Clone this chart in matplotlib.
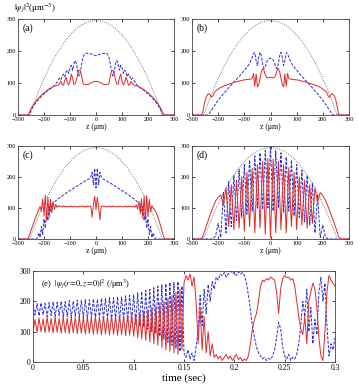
import numpy as np
import matplotlib
matplotlib.use('Agg')
import matplotlib.pyplot as plt

plt.rcParams['font.family'] = ['Liberation Serif', 'DejaVu Serif']
plt.rcParams['mathtext.fontset'] = 'stix'

# ---------------- data ----------------
z5 = np.arange(-300, 301, 5)
z10 = np.arange(-300, 301, 10)
z_tf = np.arange(-255, 256, 15)
t = np.linspace(0, 0.3, 151)

tf = [0, 34, 65, 95, 122, 148, 171, 193, 212, 230, 245, 258, 270, 279, 286, 291, 294,
      295,
      294, 291, 286, 279, 270, 258, 245, 230, 212, 193, 171, 148, 122, 95, 65, 34, 0]

red_a = [0, 0, 0, 0, 0, 0, 0, 0,
         2, 10, 20, 27, 33, 39, 44, 49, 54, 58, 62, 66, 69, 72, 76, 79, 82, 84, 86, 88,
         90, 91, 92, 94, 99, 105, 95, 93, 108, 118, 100, 94, 105, 128, 115, 96, 97, 110, 130, 140,
         138, 120, 100, 96, 95, 95, 96, 98, 100, 102, 104, 105,
         105,
         105, 104, 102, 100, 98, 96, 95, 95, 96, 100, 120, 138, 140, 130, 110, 97, 96, 115, 128, 105,
         94, 100, 118, 108, 93, 95, 105, 99, 94, 92, 91, 90,
         88, 86, 84, 82, 79, 76, 72, 69, 66, 62, 58, 54, 49, 44, 39, 33, 27, 20, 10, 2,
         0, 0, 0, 0, 0, 0, 0, 0]
blue_a = [0, 0, 0, 0, 0, 0, 0, 0,
          0, 5, 14, 22, 28, 34, 40, 45, 50, 54, 58, 62, 66, 69, 73, 76, 79, 82, 85, 88,
          92, 97, 103, 110, 115, 110, 122, 128, 120, 135, 140, 130, 148, 155, 140, 160, 170, 160, 135, 122,
          135, 160, 180, 190, 193, 193, 192, 192, 191, 190, 188, 186,
          185,
          186, 188, 190, 191, 192, 192, 193, 193, 190, 180, 160, 135, 122, 135, 160, 170, 160, 140, 155, 148,
          130, 140, 135, 120, 128, 122, 110, 115, 110, 103, 97, 92,
          88, 85, 82, 79, 76, 73, 69, 66, 62, 58, 54, 50, 45, 40, 34, 28, 22, 14, 5, 0,
          0, 0, 0, 0, 0, 0, 0, 0]

red_b = [0, 0, 0, 0, 0, 0, 0, 0,
         5, 25, 45, 58, 64, 67, 62, 56, 60, 70, 75, 78, 81, 84, 86, 88, 90, 92, 93, 95,
         96, 98, 99, 100, 102, 103, 104, 105, 106, 107, 108, 109, 110, 110, 111, 111, 112, 112, 115, 130,
         90, 128, 88, 95, 115, 135, 145, 140, 125, 118, 116, 117,
         118,
         117, 116, 118, 125, 140, 145, 135, 115, 95, 88, 128, 90, 130, 115, 112, 112, 111, 111, 110, 110,
         109, 108, 107, 106, 105, 104, 103, 102, 100, 99, 98, 96,
         95, 93, 92, 90, 88, 86, 84, 81, 78, 75, 70, 60, 56, 62, 67, 64, 58, 45, 25, 5,
         0, 0, 0, 0, 0, 0, 0, 0]
blue_b = [0, 0, 0, 0, 0, 0, 0, 0, 0, 0, 0, 0, 0,
          3, 10, 16, 22, 28, 34, 40, 46, 51, 56, 61, 66, 71, 75, 80,
          85, 89, 94, 98, 103, 107, 111, 116, 120, 125, 130, 135, 140, 145, 150, 155, 162, 170, 180, 192,
          195, 170, 155, 180, 196, 185, 160, 145, 150, 165, 172, 176,
          178,
          176, 172, 165, 150, 145, 160, 185, 196, 180, 155, 170, 195, 192, 180, 170, 162, 155, 150, 145, 140,
          135, 130, 125, 120, 116, 111, 107, 103, 98, 94, 89, 85,
          80, 75, 71, 66, 61, 56, 51, 46, 40, 34, 28, 22, 16, 10, 3,
          0, 0, 0, 0, 0, 0, 0, 0, 0, 0, 0, 0, 0]

red_c = [0, 0, 0, 0, 0, 0, 0, 0,
         3, 15, 28, 40, 52, 63, 74, 85, 95, 105, 90, 130, 75, 142, 60, 135, 70, 128, 85, 120,
         95, 112, 102, 108, 104, 106, 103, 107, 104, 106, 103, 106, 104, 107, 103, 106, 104, 105, 103, 106,
         104, 107, 104, 105, 103, 106, 104, 106, 106, 70, 110, 138,
         95,
         135, 105, 62, 105, 107, 104, 106, 103, 105, 104, 106, 103, 107, 104, 105, 103, 106, 104, 106, 103,
         105, 104, 107, 103, 106, 104, 105, 103, 107, 102, 110, 96,
         122, 82, 130, 68, 138, 62, 140, 72, 128, 88, 108, 100, 95, 88, 78, 66, 52, 38, 22, 8,
         0, 0, 0, 0, 0, 0, 0, 0]
blue_c = [0, 0, 0, 0, 0, 0, 0, 0, 0, 0, 0, 0, 0, 0, 0,
          5, 20, 5, 40, 15, 65, 35, 90, 60, 105, 90, 115, 112,
          120, 123, 127, 130, 133, 136, 139, 142, 145, 148, 151, 154, 156, 159, 162, 164, 167, 170,
          172, 175, 178, 180, 182, 185, 188, 190, 192, 195, 200, 215, 175, 228,
          165,
          228, 175, 215, 200, 195, 192, 190, 188, 185, 182, 180, 178, 175, 172, 170, 167, 164, 162, 159, 156,
          154, 151, 148, 145, 142, 139, 136, 133, 130, 127, 123, 120,
          112, 115, 90, 105, 60, 90, 35, 65, 15, 40, 5, 20, 5,
          0, 0, 0, 0, 0, 0, 0, 0, 0, 0, 0, 0, 0, 0, 0]

red_d = [0, 0, 0, 0, 5, 30, 55, 80, 102, 122, 135, 142, 110, 165, 40, 175, 30, 190, 35, 200,
         25, 215, 40, 228, 20, 240, 35, 250, 15, 260,
         5,
         258, 20, 250, 30, 240, 20, 230, 40, 215, 30, 200, 45, 190, 35, 175, 50, 165, 120, 150,
         140, 125, 105, 82, 60, 35, 8, 0, 0, 0, 0]
blue_d = [0, 0, 0, 0, 0, 0, 0, 0, 0, 10, 50, 5, 150, 20, 185, 40, 205, 60, 225, 70,
          240, 80, 255, 90, 268, 100, 278, 95, 285, 100,
          295,
          90, 285, 100, 278, 85, 265, 90, 255, 75, 240, 70, 222, 55, 205, 45, 180, 20, 140, 5,
          45, 5, 0, 0, 0, 0, 0, 0, 0, 0, 0]

red_e = [100, 140, 98, 145, 100, 142, 97, 148, 99, 144, 96, 147, 98, 143, 95, 149, 97, 145, 94, 148,
         96, 146, 93, 150, 95, 147, 92, 149, 94, 146, 91, 150, 93, 148, 90, 151, 92, 149, 89, 152,
         91, 150, 88, 153, 90, 152, 87, 155, 88, 156, 85,
         158, 80, 162, 76, 168, 72, 172, 66, 180, 60, 185, 55, 195, 48, 200, 40, 210, 35, 220, 30,
         230, 25, 240, 40, 260,
         285, 270, 290, 250, 280, 200, 60, 180, 40, 150,
         30, 100, 20, 60, 15, 25, 10, 20, 5, 15,
         25, 10, 20, 5, 15, 25, 8, 15, 3, 10,
         5, 20, 60, 110, 140, 160, 200, 250, 270, 265,
         275, 270, 280, 275, 270, 230, 160, 240, 275, 285,
         278, 280, 270, 275, 250, 200, 150, 110, 90, 150,
         60, 200, 230, 260, 240, 180, 80, 20, 5, 100,
         230, 285, 270, 260, 250]
blue_e = [190, 155, 192, 152, 195, 156, 193, 150, 196, 153, 198, 149, 197, 152, 200, 148, 199, 150, 202, 146,
          201, 149, 204, 145, 203, 147, 206, 143, 205, 146, 208, 142, 207, 144, 210, 140, 209, 142, 212, 138,
          212, 140, 215, 136, 214, 138, 218, 134, 220, 132, 222,
          125, 228, 120, 232, 115, 236, 108, 240, 100, 245, 95, 250, 85, 255, 75, 258, 65, 262, 55, 262,
          45, 265, 35, 250, 30,
          15, 40, 10, 30, 5, 50, 100, 220, 120, 240,
          160, 255, 200, 265, 240, 280, 270, 290, 285, 295,
          280, 290, 300, 292, 295, 285, 298, 290, 295, 285,
          260, 220, 170, 120, 80, 50, 30, 20, 10, 15,
          5, 12, 8, 20, 40, 80, 130, 110, 50, 20,
          10, 25, 5, 15, 10, 25, 60, 120, 200, 150,
          240, 100, 180, 60, 140, 90, 230, 280, 200, 260,
          120, 20, 60, 40, 80]

z_ticks = [-300, -200, -100, 0, 100, 200, 300]
n_ticks = [0, 100, 200, 300]
t_ticks = [0, 0.05, 0.1, 0.15, 0.2, 0.25, 0.3]
t_ticklabels = ['0', '0.05', '0.1', '0.15', '0.2', '0.25', '0.3']
panel_labels = ['(a)', '(b)', '(c)', '(d)']

RED = '#e02a2a'
BLUE = '#2b2bd0'
DOT = '#555555'

# ---------------- figure ----------------
W, H = 358, 388
fig = plt.figure(figsize=(W / 100, H / 100), dpi=100)


def px_axes(x0, x1, ytop, ybot):
    return fig.add_axes([x0 / W, 1 - ybot / H, (x1 - x0) / W, (ybot - ytop) / H])


def style(ax, labelsize):
    ax.tick_params(direction='in', length=2, width=0.5, labelsize=labelsize,
                   top=True, right=True, pad=1.5)
    for s in ax.spines.values():
        s.set_linewidth(0.6)
        s.set_color('#444444')


boxes = [(18, 174, 19, 115), (192, 349, 19, 115), (18, 174, 146, 239), (192, 349, 146, 239)]
zdata = [(z5, red_a, blue_a), (z5, red_b, blue_b), (z5, red_c, blue_c), (z10, red_d, blue_d)]

for box, (zz, rr, bb), lab in zip(boxes, zdata, panel_labels):
    ax = px_axes(*box)
    ax.plot(z_tf, tf, color=DOT, lw=0.6, ls=(0, (1, 1.5)))
    ax.plot(zz, bb, color=BLUE, lw=0.7, ls=(0, (3, 1.5)))
    ax.plot(zz, rr, color=RED, lw=0.7)
    ax.set_xlim(-300, 300)
    ax.set_ylim(0, 300)
    ax.set_xticks(z_ticks)
    ax.set_yticks(n_ticks)
    style(ax, 4.5)
    ax.set_xlabel('z (μm)', fontsize=5.5, labelpad=1)
    ax.text(0.03, 0.95, lab, transform=ax.transAxes, fontsize=7, va='top', ha='left')

fig.text(14 / W, 1 - 2 / H, r'$|\psi_j|^2$' + '(μm$^{-3}$)', fontsize=6.5, va='top', ha='left')

axe = px_axes(33, 335, 271, 362)
axe.plot(t, blue_e, color=BLUE, lw=0.7, ls=(0, (3, 1.5)))
axe.plot(t, red_e, color=RED, lw=0.7)
axe.set_xlim(0, 0.3)
axe.set_ylim(0, 300)
axe.set_xticks(t_ticks)
axe.set_xticklabels(t_ticklabels)
axe.set_yticks(n_ticks)
style(axe, 5.5)
axe.set_xlabel('time (sec)', fontsize=8, labelpad=1)
axe.text(0.025, 0.93, r'(e)  $|\psi_j(r\!=\!0,z\!=\!0)|^2$' + ' (/μm$^3$)', transform=axe.transAxes,
         fontsize=6, va='top', ha='left')

fig.savefig('out.png', dpi=100)
